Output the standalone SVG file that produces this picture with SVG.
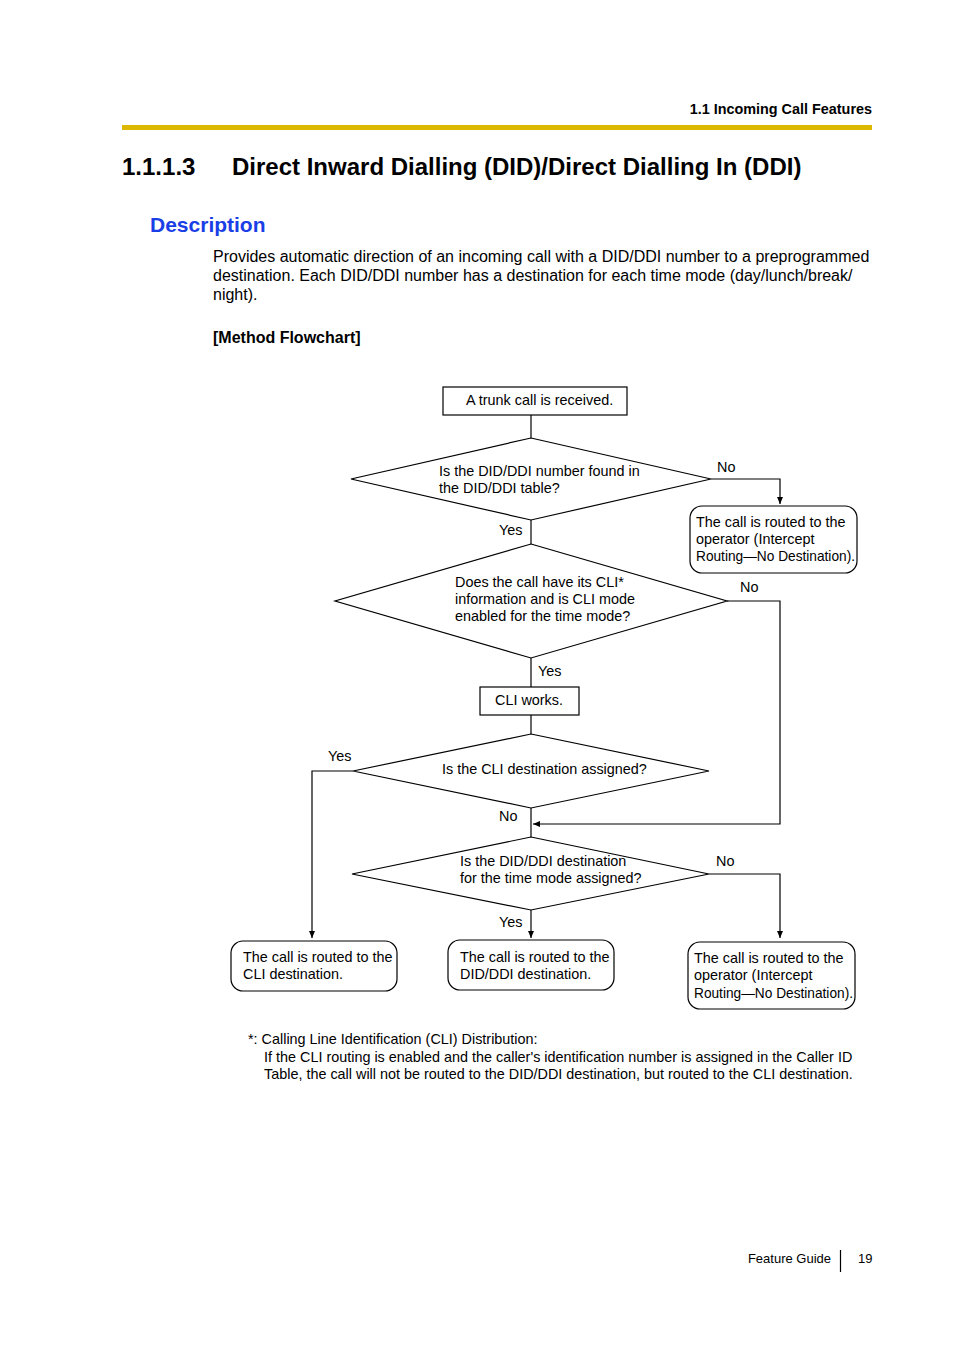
<svg xmlns="http://www.w3.org/2000/svg" width="954" height="1351" viewBox="0 0 954 1351">
<style>
text{font-family:"Liberation Sans",Arial,sans-serif;fill:#000}
.f{font-size:14.4px}
.p{font-size:16px}
.n{fill:#fff;stroke:#000;stroke-width:1.2}
.c{fill:none;stroke:#000;stroke-width:1.2}
</style>
<defs>
<marker id="ah" markerWidth="8" markerHeight="8" refX="7" refY="4" orient="auto" markerUnits="userSpaceOnUse">
<path d="M0,1 L7,4 L0,7 Z" fill="#000"/>
</marker>
</defs>
<rect width="954" height="1351" fill="#fff"/>
<text x="872" y="114" font-size="14.4" font-weight="bold" text-anchor="end">1.1 Incoming Call Features</text>
<rect x="122" y="125" width="750" height="5" fill="#DDB800"/>
<text x="122" y="175" font-size="24" font-weight="bold">1.1.1.3</text>
<text x="232" y="175" font-size="24" font-weight="bold">Direct Inward Dialling (DID)/Direct Dialling In (DDI)</text>
<text x="150" y="232" font-size="21" font-weight="bold" style="fill:#1a3ee6">Description</text>
<text class="p" x="213" y="262">Provides automatic direction of an incoming call with a DID/DDI number to a preprogrammed</text>
<text class="p" x="213" y="281">destination. Each DID/DDI number has a destination for each time mode (day/lunch/break/</text>
<text class="p" x="213" y="300">night).</text>
<text class="p" x="213" y="343" font-weight="bold">[Method Flowchart]</text>

<g id="connectors">
<path class="c" d="M531,415 V438"/>
<path class="c" d="M711,479 H780 V504" marker-end="url(#ah)"/>
<path class="c" d="M531,520 V544"/>
<path class="c" d="M727,601 H780 V824 H533" marker-end="url(#ah)"/>
<path class="c" d="M531,658 V687"/>
<path class="c" d="M531,715 V734"/>
<path class="c" d="M353,771 H312 V938" marker-end="url(#ah)"/>
<path class="c" d="M531,808 V837"/>
<path class="c" d="M709,874 H780 V938" marker-end="url(#ah)"/>
<path class="c" d="M531,910 V938" marker-end="url(#ah)"/>
<text class="f" x="717" y="472">No</text>
<text class="f" x="499" y="535">Yes</text>
<text class="f" x="740" y="592">No</text>
<text class="f" x="538" y="676">Yes</text>
<text class="f" x="328" y="761">Yes</text>
<text class="f" x="499" y="821">No</text>
<text class="f" x="716" y="866">No</text>
<text class="f" x="499" y="927">Yes</text>
</g>

<g id="start">
<rect class="n" x="443" y="387" width="184" height="28"/>
<text class="f" x="466" y="405">A trunk call is received.</text>
</g>
<g id="d1">
<polygon class="n" points="531,438 711,479 531,520 351,479"/>
<text class="f" x="439" y="476">Is the DID/DDI number found in</text>
<text class="f" x="439" y="493">the DID/DDI table?</text>
</g>
<g id="op1">
<rect class="n" x="690" y="506" width="167" height="67" rx="12"/>
<text class="f" x="696" y="527">The call is routed to the</text>
<text class="f" x="696" y="544">operator (Intercept</text>
<text class="f" x="696" y="561" textLength="159" lengthAdjust="spacingAndGlyphs">Routing—No Destination).</text>
</g>
<g id="d2">
<polygon class="n" points="531,544 727,601 531,658 335,601"/>
<text class="f" x="455" y="587">Does the call have its CLI*</text>
<text class="f" x="455" y="604">information and is CLI mode</text>
<text class="f" x="455" y="621">enabled for the time mode?</text>
</g>
<g id="cli">
<rect class="n" x="480" y="687" width="99" height="28"/>
<text class="f" x="495" y="705">CLI works.</text>
</g>
<g id="d3">
<polygon class="n" points="531,734 709,771 531,808 353,771"/>
<text class="f" x="442" y="774">Is the CLI destination assigned?</text>
</g>
<g id="d4">
<polygon class="n" points="531,837 709,874 531,910 352,874"/>
<text class="f" x="460" y="866">Is the DID/DDI destination</text>
<text class="f" x="460" y="883">for the time mode assigned?</text>
</g>
<g id="outcli">
<rect class="n" x="231" y="941" width="166" height="50" rx="12"/>
<text class="f" x="243" y="962">The call is routed to the</text>
<text class="f" x="243" y="979">CLI destination.</text>
</g>
<g id="outdid">
<rect class="n" x="448" y="940" width="166" height="50" rx="12"/>
<text class="f" x="460" y="962">The call is routed to the</text>
<text class="f" x="460" y="979">DID/DDI destination.</text>
</g>
<g id="op2">
<rect class="n" x="688" y="942" width="167" height="67" rx="12"/>
<text class="f" x="694" y="963">The call is routed to the</text>
<text class="f" x="694" y="980">operator (Intercept</text>
<text class="f" x="694" y="998" textLength="159" lengthAdjust="spacingAndGlyphs">Routing—No Destination).</text>
</g>

<text class="f" x="248" y="1044">*: Calling Line Identification (CLI) Distribution:</text>
<text class="f" x="264" y="1062">If the CLI routing is enabled and the caller's identification number is assigned in the Caller ID</text>
<text class="f" x="264" y="1079">Table, the call will not be routed to the DID/DDI destination, but routed to the CLI destination.</text>

<text x="831" y="1263" font-size="13" text-anchor="end">Feature Guide</text>
<path d="M840.5,1250 V1272" stroke="#000" stroke-width="1.2"/>
<text x="858" y="1263" font-size="13">19</text>
</svg>
